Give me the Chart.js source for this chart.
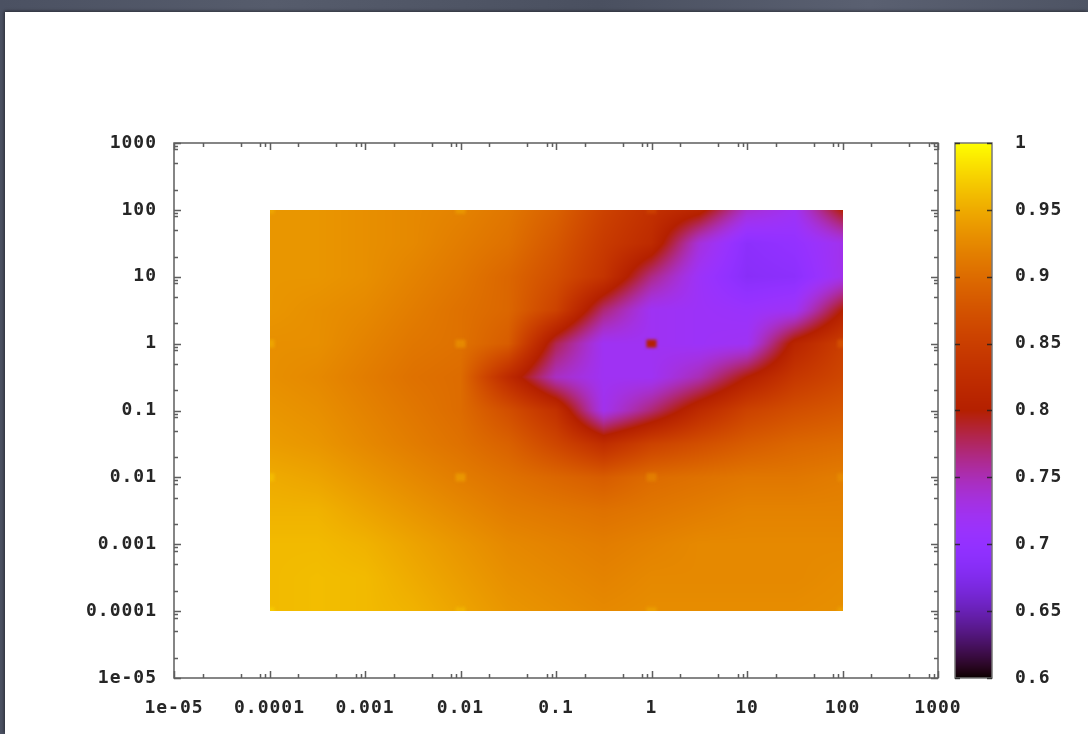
<!DOCTYPE html>
<html>
<head>
<meta charset="utf-8">
<title>pm3d map</title>
<script src="https://cdn.jsdelivr.net/npm/chart.js@4.4.1/dist/chart.umd.min.js"></script>
<style>
  html, body { margin: 0; padding: 0; }
  body {
    width: 1088px; height: 734px; overflow: hidden; position: relative;
    background: linear-gradient(90deg, #4b5162 0%, #565c6c 25%, #4a5060 55%, #5a6071 80%, #4e5464 100%);
  }
  #sheet {
    position: absolute; left: 5px; top: 12px; right: 0; bottom: 0;
    background: #fff; box-shadow: -1px -1px 3px rgba(0, 0, 0, 0.45);
  }
  #wrap { position: absolute; left: 0; top: 0; width: 1088px; height: 734px; }
</style>
</head>
<body>
<div id="sheet"></div>
<div id="wrap"><canvas id="heat" width="1088" height="734"></canvas></div>
<script>
// grid of samples, as log10(x) and log10(y); rows run from top (100) to bottom (1e-4)
const xLog = [-4, -3.5, -3, -2.5, -2, -1.5, -1, -0.5, 0, 0.5, 1, 1.5, 2];
const yLog = [2, 1.5, 1, 0.5, 0, -0.5, -1, -1.5, -2, -2.5, -3, -3.5, -4];
const zGrid = [
  [0.935, 0.935, 0.930, 0.925, 0.920, 0.910, 0.890, 0.855, 0.830, 0.810, 0.740, 0.720, 0.800],
  [0.935, 0.935, 0.930, 0.925, 0.915, 0.905, 0.880, 0.845, 0.820, 0.735, 0.690, 0.700, 0.725],
  [0.935, 0.935, 0.930, 0.920, 0.910, 0.895, 0.870, 0.835, 0.765, 0.715, 0.685, 0.690, 0.725],
  [0.935, 0.930, 0.925, 0.915, 0.905, 0.895, 0.855, 0.770, 0.720, 0.715, 0.710, 0.720, 0.800],
  [0.930, 0.930, 0.920, 0.910, 0.905, 0.885, 0.780, 0.720, 0.720, 0.715, 0.720, 0.810, 0.850],
  [0.930, 0.925, 0.915, 0.905, 0.900, 0.820, 0.745, 0.720, 0.720, 0.750, 0.800, 0.840, 0.860],
  [0.935, 0.930, 0.920, 0.910, 0.900, 0.870, 0.830, 0.725, 0.770, 0.820, 0.855, 0.870, 0.880],
  [0.940, 0.935, 0.925, 0.915, 0.905, 0.890, 0.860, 0.825, 0.855, 0.870, 0.885, 0.895, 0.900],
  [0.950, 0.945, 0.935, 0.925, 0.915, 0.905, 0.895, 0.885, 0.900, 0.905, 0.910, 0.910, 0.915],
  [0.955, 0.955, 0.945, 0.935, 0.925, 0.915, 0.910, 0.905, 0.910, 0.915, 0.920, 0.920, 0.920],
  [0.960, 0.960, 0.955, 0.945, 0.935, 0.925, 0.920, 0.915, 0.920, 0.925, 0.925, 0.925, 0.925],
  [0.960, 0.962, 0.960, 0.950, 0.940, 0.930, 0.925, 0.920, 0.925, 0.925, 0.925, 0.925, 0.928],
  [0.960, 0.962, 0.960, 0.955, 0.945, 0.935, 0.930, 0.925, 0.928, 0.928, 0.928, 0.928, 0.930]
];

// measured sites, drawn as small squares on top of the surface
const siteX = [1e-4, 1e-2, 1, 100];
const siteY = [100, 1, 1e-2, 1e-4];
const siteZ = [
  [0.945, 0.935, 0.850, null],
  [0.945, 0.925, 0.800, 0.870],
  [0.960, 0.935, 0.915, 0.925],
  [0.970, 0.955, 0.940, 0.940]
];

const axisTicks = [1e-5, 1e-4, 1e-3, 1e-2, 0.1, 1, 10, 100, 1000];
const axisLabels = ['1e-05', '0.0001', '0.001', '0.01', '0.1', '1', '10', '100', '1000'];
const minorSteps = [2, 5, 8, 9];
const cbTicks = [0.6, 0.65, 0.7, 0.75, 0.8, 0.85, 0.9, 0.95, 1];
const cbLabels = ['0.6', '0.65', '0.7', '0.75', '0.8', '0.85', '0.9', '0.95', '1'];

const font = { family: '"DejaVu Sans Mono", "Liberation Mono", monospace', size: 18, weight: 'bold' };
const inkColor = '#262626';

// gnuplot default palette (rgbformulae 7,5,15), a little lighter in the blue end
function palette(v) {
  const t = Math.min(1, Math.max(0, (v - 0.6) / 0.4));
  const r = Math.sqrt(t), g = t * t * t, b = Math.max(0, Math.sin(2 * Math.PI * t));
  return [
    Math.min(255, Math.round(r * 255 + 20 * b)),
    Math.min(255, Math.round(g * 255 + 45 * b)),
    Math.round(b * 255)
  ];
}

function locate(arr, v) {
  for (let i = 0; i < arr.length - 1; i++) {
    const f = (v - arr[i]) / (arr[i + 1] - arr[i]);
    if (f >= 0 && f <= 1) return [i, f];
  }
  return Math.abs(v - arr[0]) < Math.abs(v - arr[arr.length - 1]) ? [0, 0] : [arr.length - 2, 1];
}

function surface(lx, ly) {
  const [r, fy] = locate(yLog, ly);
  const [c, fx] = locate(xLog, lx);
  const top = zGrid[r][c] * (1 - fx) + zGrid[r][c + 1] * fx;
  const bot = zGrid[r + 1][c] * (1 - fx) + zGrid[r + 1][c + 1] * fx;
  return top * (1 - fy) + bot * fy;
}

const heatmap = {
  id: 'heatmap',
  beforeDraw(chart) {
    chart.ctx.letterSpacing = '1px';
  },
  beforeDatasetsDraw(chart) {
    const { ctx, scales: { x, y } } = chart;
    const left = Math.round(x.getPixelForValue(10 ** Math.min(...xLog)));
    const right = Math.round(x.getPixelForValue(10 ** Math.max(...xLog)));
    const top = Math.round(y.getPixelForValue(10 ** Math.max(...yLog)));
    const bottom = Math.round(y.getPixelForValue(10 ** Math.min(...yLog)));
    const w = right - left, h = bottom - top;

    const off = document.createElement('canvas');
    off.width = w; off.height = h;
    const octx = off.getContext('2d');
    const img = octx.createImageData(w, h);
    for (let j = 0; j < h; j++) {
      const ly = Math.log10(y.getValueForPixel(top + j + 0.5));
      for (let i = 0; i < w; i++) {
        const lx = Math.log10(x.getValueForPixel(left + i + 0.5));
        const [R, G, B] = palette(surface(lx, ly));
        const k = (j * w + i) * 4;
        img.data[k] = R; img.data[k + 1] = G; img.data[k + 2] = B; img.data[k + 3] = 255;
      }
    }
    octx.putImageData(img, 0, 0);

    ctx.save();
    ctx.drawImage(off, left, top);
    ctx.beginPath();
    ctx.rect(left, top, w, h);
    ctx.clip();
    ctx.filter = 'blur(1.5px)';
    siteY.forEach((yv, r) => {
      siteX.forEach((xv, c) => {
        const z = siteZ[r][c];
        if (z == null) return;
        const [R, G, B] = palette(z);
        ctx.fillStyle = `rgb(${R},${G},${B})`;
        const px = x.getPixelForValue(xv), py = y.getPixelForValue(yv);
        ctx.fillRect(px - 5, py - 4, 10, 8);
      });
    });
    ctx.restore();
  },
  afterDraw(chart) {
    const { ctx, chartArea: a, scales: { x, y, cb } } = chart;
    ctx.save();

    // colour box
    const bl = a.right + 17, bw = 37;
    for (let py = Math.floor(cb.top); py < cb.bottom; py++) {
      const [R, G, B] = palette(cb.getValueForPixel(py + 0.5));
      ctx.fillStyle = `rgb(${R},${G},${B})`;
      ctx.fillRect(bl, py, bw, 1);
    }
    ctx.strokeStyle = '#777';
    ctx.lineWidth = 1.5;
    ctx.strokeRect(bl, cb.top, bw, cb.bottom - cb.top);
    ctx.strokeStyle = 'rgba(30,30,30,0.8)';
    ctx.beginPath();
    cbTicks.forEach(v => {
      const py = Math.round(cb.getPixelForValue(v)) + 0.5;
      ctx.moveTo(bl, py); ctx.lineTo(bl + 5, py);
      ctx.moveTo(bl + bw, py); ctx.lineTo(bl + bw - 5, py);
    });
    ctx.stroke();

    // border with inward log ticks on all four sides
    ctx.strokeStyle = '#5e5e5e';
    ctx.lineWidth = 1.5;
    ctx.strokeRect(a.left, a.top, a.right - a.left, a.bottom - a.top);
    ctx.beginPath();
    axisTicks.forEach(v => {
      const marks = [[v, 7]].concat(minorSteps.map(m => [v * m, 4]));
      marks.forEach(([val, len]) => {
        if (val > x.max) return;
        const px = Math.round(x.getPixelForValue(val)) + 0.5;
        ctx.moveTo(px, a.bottom); ctx.lineTo(px, a.bottom - len);
        ctx.moveTo(px, a.top); ctx.lineTo(px, a.top + len);
        const py = Math.round(y.getPixelForValue(val)) + 0.5;
        ctx.moveTo(a.left, py); ctx.lineTo(a.left + len, py);
        ctx.moveTo(a.right, py); ctx.lineTo(a.right - len, py);
      });
    });
    ctx.stroke();
    ctx.restore();
  }
};

// fixed box sizes, and no extra room for overhanging end labels
function fixBox(s, width, height) {
  if (width != null) s.width = width;
  if (height != null) s.height = height;
  s.paddingTop = s.paddingBottom = s.paddingLeft = s.paddingRight = 0;
}

function logAxis(pos, size) {
  return {
    type: 'logarithmic',
    position: pos,
    min: 1e-5,
    max: 1000,
    grid: { display: false },
    border: { display: false },
    afterBuildTicks: s => { s.ticks = axisTicks.map(v => ({ value: v })); },
    afterFit: s => (pos === 'left' ? fixBox(s, size, null) : fixBox(s, null, size)),
    ticks: {
      autoSkip: false,
      maxRotation: 0,
      padding: pos === 'left' ? 9 : 12,
      color: inkColor,
      font: font,
      callback: (v, i) => axisLabels[i]
    }
  };
}

new Chart(document.getElementById('heat'), {
  type: 'scatter',
  data: { datasets: [] },
  options: {
    responsive: false,
    animation: false,
    layout: { padding: { top: 143, left: 0, right: 0, bottom: 0 } },
    plugins: { legend: { display: false }, tooltip: { enabled: false } },
    scales: {
      x: logAxis('bottom', 56),
      y: logAxis('left', 174),
      cb: {
        type: 'linear',
        position: 'right',
        min: 0.6,
        max: 1,
        grid: { display: false },
        border: { display: false },
        afterBuildTicks: s => { s.ticks = cbTicks.map(v => ({ value: v })); },
        afterFit: s => fixBox(s, 150, null),
        ticks: {
          padding: 69,
          color: inkColor,
          font: font,
          callback: (v, i) => cbLabels[i]
        }
      }
    }
  },
  plugins: [heatmap]
});
</script>
</body>
</html>
